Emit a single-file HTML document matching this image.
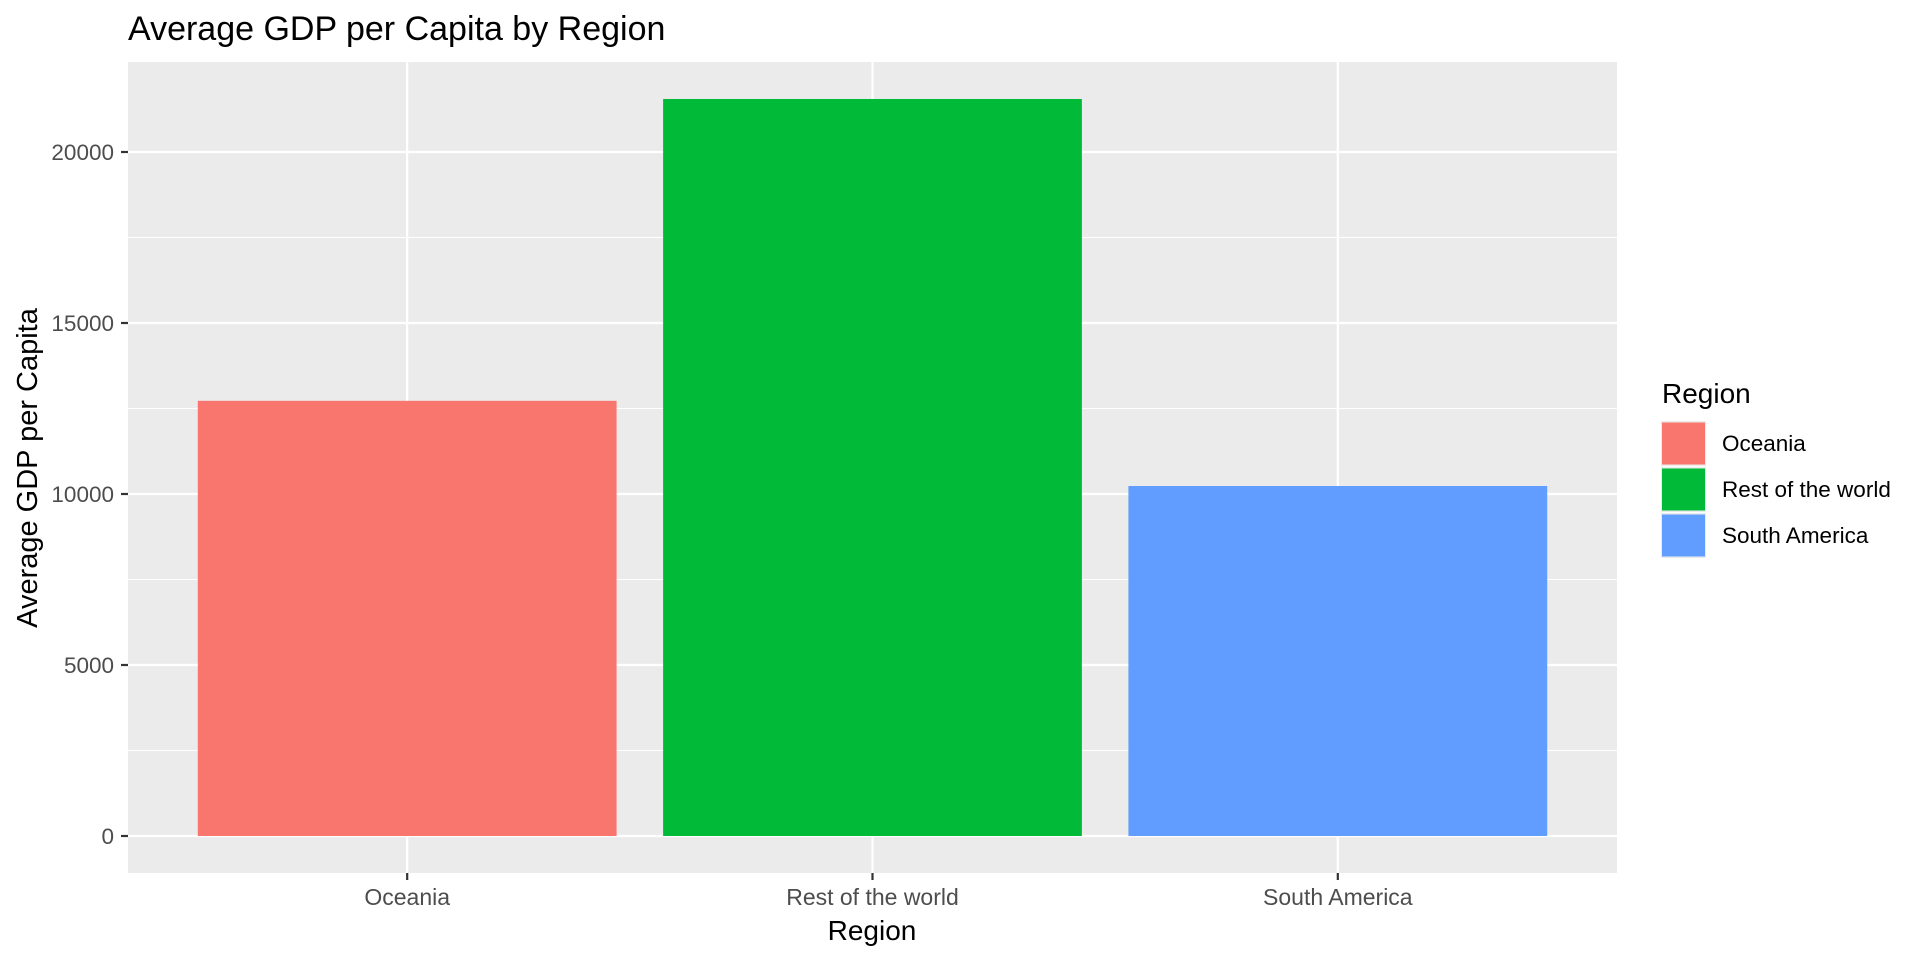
<!DOCTYPE html>
<html><head><meta charset="utf-8"><style>
html,body{margin:0;padding:0;background:#fff;}
svg{display:block;font-family:"Liberation Sans",Arial,sans-serif;}
</style></head><body>
<svg id="chart" width="1920" height="960" viewBox="0 0 1920 960">
<text x="128" y="40" font-size="34" fill="#000">Average GDP per Capita by Region</text>
<rect x="128" y="62" width="1489" height="811" fill="#ebebeb"/>
<g id="grid"></g><g id="bars"></g><g id="axes"></g>
<text x="872" y="940" font-size="28" text-anchor="middle" fill="#000">Region</text>
<text transform="translate(37,468) rotate(-90)" font-size="29" text-anchor="middle" fill="#000">Average GDP per Capita</text>
<g id="legend">
<text x="1662" y="403" font-size="28" fill="#000">Region</text>
</g>
</svg>
<script>
const categories = ["Oceania","Rest of the world","South America"];
const values = [12725, 21550, 10234];
const colors = ["#F8766D","#00BA38","#619CFF"];
const yTicks = [0,5000,10000,15000,20000];
const yMinor = [2500,7500,12500,17500];
const NS="http://www.w3.org/2000/svg";
const px0=128, px1=1617, py0=873, py1=62;
const yZero=836, yPerUnit=684/20000;
function yS(v){return yZero - v*yPerUnit;}
function xS(i){return px0 + (i+1-0.4)*(px1-px0)/3.2;}
const bw=0.9*(px1-px0)/3.2;
function mk(tag,attrs,parent){const e=document.createElementNS(NS,tag);for(const k in attrs)e.setAttribute(k,attrs[k]);parent.appendChild(e);return e;}
const grid=document.getElementById('grid'),bars=document.getElementById('bars'),axes=document.getElementById('axes'),legend=document.getElementById('legend');
yMinor.forEach(v=>{const l=mk('line',{x1:px0,x2:px1,y1:yS(v),y2:yS(v),stroke:'#fff','stroke-width':1.1},grid);

});
yTicks.forEach(v=>{const y=yS(v);
const l=mk('line',{x1:px0,x2:px1,y1:y,y2:y,stroke:'#fff','stroke-width':2.2},grid);


const t=mk('line',{x1:px0-7,x2:px0,y1:y,y2:y,stroke:'#333','stroke-width':2.2},axes);


const tx=mk('text',{x:px0-14,y:y+8,'font-size':22.5,'text-anchor':'end',fill:'#4d4d4d'},axes);tx.textContent=v;

});
categories.forEach((c,i)=>{const x=xS(i);
const g=mk('line',{x1:x,x2:x,y1:py1,y2:py0,stroke:'#fff','stroke-width':2.2},grid);


const r=mk('rect',{x:x-bw/2,y:yS(values[i]),width:bw,height:yZero-yS(values[i]),fill:colors[i]},bars);


const t=mk('line',{x1:x,x2:x,y1:py0,y2:py0+7,stroke:'#333','stroke-width':2.2},axes);


const tx=mk('text',{x:x,y:py0+32,'font-size':23,'text-anchor':'middle',fill:'#4d4d4d'},axes);tx.textContent=c;


const ky=421+i*46;
const k=mk('rect',{x:1661,y:ky,width:45,height:45,fill:'#ebebeb'},legend);


const kf=mk('rect',{x:1662,y:ky+1.5,width:43,height:42,fill:colors[i]},legend);


const lt=mk('text',{x:1722,y:ky+30,'font-size':22.5,fill:'#000'},legend);lt.textContent=c;


});
</script>
</body></html>
